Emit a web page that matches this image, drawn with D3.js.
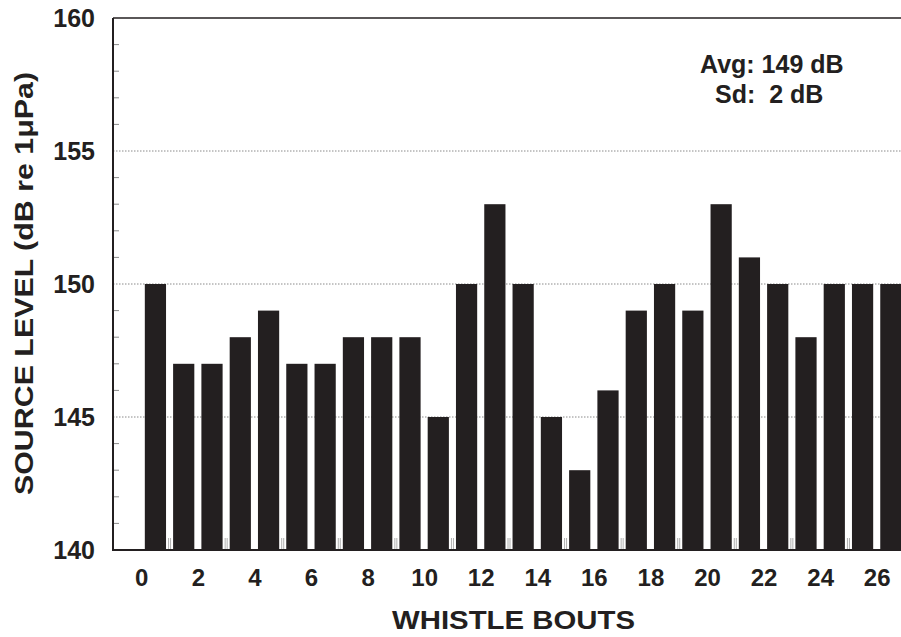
<!DOCTYPE html>
<html>
<head>
<meta charset="utf-8">
<script src="https://cdn.jsdelivr.net/npm/d3@7"></script>
<style>
  html, body { margin: 0; padding: 0; background: #fff; }
  svg { display: block; }
  text { font-family: "Liberation Sans", Arial, sans-serif; font-weight: bold; fill: #231f20; }
</style>
</head>
<body>
<svg id="chart" width="901" height="637"></svg>
<script>
// Whistle bout index and measured source level (dB re 1 µPa)
const bouts = d3.range(0, 27);
const sourceLevels = [150, 147, 147, 148, 149, 147, 147, 148, 148, 148, 145, 150, 153, 150, 145,
                      143, 146, 149, 150, 149, 153, 151, 150, 148, 150, 150, 150];
const xTickLabels = [0, 2, 4, 6, 8, 10, 12, 14, 16, 18, 20, 22, 24, 26];
const xMinorTicks = [1, 3, 5, 7, 9, 11, 13, 15, 17, 19, 21, 23, 25];
const yTickLabels = [140, 145, 150, 155, 160];
const yGridLines = [145, 150, 155];
const yMinorTicks = d3.range(141, 160).filter(v => v % 5 !== 0);
const statsLines = ["Avg: 149 dB", "Sd:  2 dB"];

const ink = "#231f20";
const svg = d3.select("#chart");

const x = d3.scaleLinear().domain([-1, 27]).range([113, 905]);
const y = d3.scaleLinear().domain([140, 160]).range([550, 18]);

// dotted grid lines
svg.append("g").selectAll("line").data(yGridLines).join("line")
  .attr("x1", x(-1)).attr("x2", 901)
  .attr("y1", d => y(d)).attr("y2", d => y(d))
  .attr("stroke", "#8a8a8a").attr("stroke-width", 1)
  .attr("stroke-dasharray", "1.5,1.5");

// minor ticks on the x axis (between bars)
const xt = svg.append("g");
xMinorTicks.forEach(v => {
  [-1, 1].forEach(o => {
    xt.append("line")
      .attr("x1", x(v) + o).attr("x2", x(v) + o)
      .attr("y1", y(140)).attr("y2", y(140) - 12)
      .attr("stroke", "#9a9a9a").attr("stroke-width", 0.8);
  });
});

// minor ticks on the y axis
svg.append("g").selectAll("line").data(yMinorTicks).join("line")
  .attr("x1", x(-1)).attr("x2", x(-1) + 6)
  .attr("y1", d => y(d)).attr("y2", d => y(d))
  .attr("stroke", "#8a8a8a").attr("stroke-width", 1);

// bars
svg.append("g").selectAll("rect").data(bouts).join("rect")
  .attr("x", d => x(d + 0.125))
  .attr("width", d => x(d + 0.875) - x(d + 0.125))
  .attr("y", d => y(sourceLevels[d]))
  .attr("height", d => y(140) - y(sourceLevels[d]))
  .attr("fill", ink);

// frame: top, left, bottom
svg.append("line").attr("x1", x(-1)).attr("x2", 901).attr("y1", y(160)).attr("y2", y(160))
  .attr("stroke", ink).attr("stroke-width", 1.5);
svg.append("line").attr("x1", x(-1)).attr("x2", x(-1)).attr("y1", y(160)).attr("y2", y(140))
  .attr("stroke", ink).attr("stroke-width", 2);
svg.append("line").attr("x1", x(-1) - 1).attr("x2", 901).attr("y1", y(140)).attr("y2", y(140))
  .attr("stroke", ink).attr("stroke-width", 2);

// y axis labels
const yAxis = svg.append("g").attr("transform", `translate(${x(-1)},0)`)
  .call(d3.axisLeft(y).tickValues(yTickLabels).tickSize(0).tickPadding(18));
yAxis.select(".domain").remove();
yAxis.selectAll("text").attr("font-size", 25).attr("fill", ink)
  .style("font-family", "'Liberation Sans', Arial, sans-serif").style("font-weight", "bold");

// x axis labels
const xAxis = svg.append("g").attr("transform", `translate(0,${y(140)})`)
  .call(d3.axisBottom(x).tickValues(xTickLabels).tickSize(0).tickPadding(19));
xAxis.select(".domain").remove();
xAxis.selectAll("text").attr("font-size", 24).attr("fill", ink)
  .style("font-family", "'Liberation Sans', Arial, sans-serif").style("font-weight", "bold");

// axis titles
svg.append("text")
  .attr("x", 513.5).attr("y", 629)
  .attr("text-anchor", "middle").attr("font-size", 26)
  .attr("textLength", 243).attr("lengthAdjust", "spacingAndGlyphs")
  .text("WHISTLE BOUTS");

svg.append("text")
  .attr("transform", "translate(33,283.5) rotate(-90)")
  .attr("text-anchor", "middle").attr("font-size", 26)
  .attr("textLength", 423).attr("lengthAdjust", "spacingAndGlyphs")
  .text("SOURCE LEVEL (dB re 1μPa)");

// summary statistics
svg.append("g").selectAll("text").data(statsLines).join("text")
  .attr("x", (d, i) => i === 0 ? 700 : 715)
  .attr("y", (d, i) => i === 0 ? 73 : 103)
  .attr("font-size", 25)
  .style("white-space", "pre")
  .text(d => d);
</script>
</body>
</html>
